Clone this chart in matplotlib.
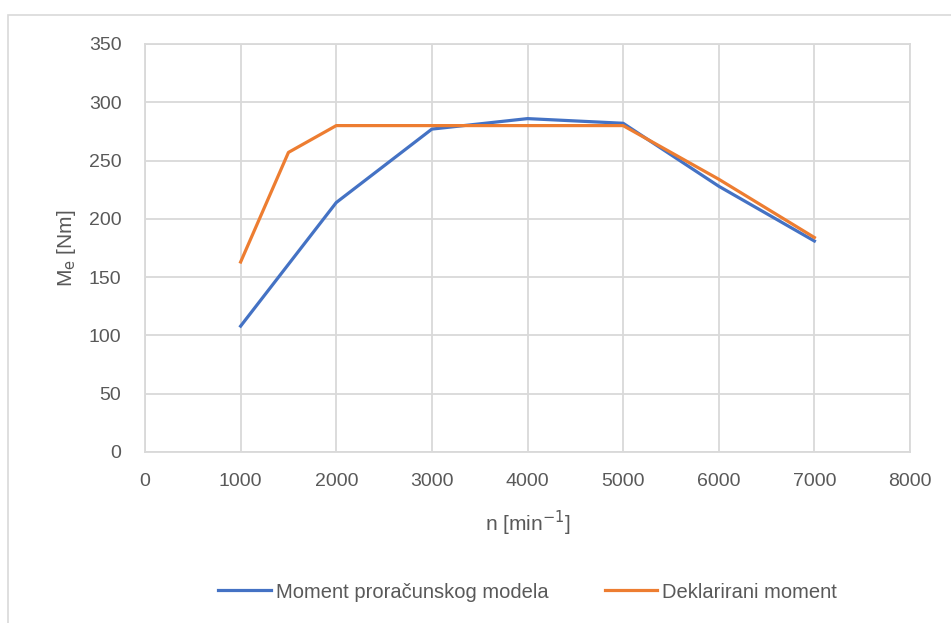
import matplotlib
matplotlib.use("Agg")
import matplotlib.pyplot as plt
from matplotlib.patches import Rectangle

rpm_model = [1000, 1500, 2000, 3000, 4000, 5000, 6000, 7000]
moment_model = [108, 161, 214, 277, 286, 282, 228, 181]
rpm_decl = [1000, 1500, 2000, 3000, 4000, 5000, 6000, 7000]
moment_decl = [163, 257, 280, 280, 280, 280, 234, 184]
xticks = [0, 1000, 2000, 3000, 4000, 5000, 6000, 7000, 8000]
yticks = [0, 50, 100, 150, 200, 250, 300, 350]

plt.rcParams['font.family'] = ['Liberation Sans', 'DejaVu Sans']
txt = '#595959'
grid = '#d9d9d9'

fig = plt.figure(figsize=(9.51, 6.23), dpi=100)
fig.patches.append(Rectangle((8/951, -0.1), 1.1, 1 - 15/623 + 0.1, transform=fig.transFigure,
                             fill=False, edgecolor='#d9d9d9', linewidth=1.2))
ax = fig.add_axes([145/951, 1 - 452/623, (910 - 145)/951, (452 - 44)/623])
ax.plot(rpm_model, moment_model, color='#4472C4', lw=2.3, label='Moment proračunskog modela', zorder=3)
ax.plot(rpm_decl, moment_decl, color='#ED7D31', lw=2.3, label='Deklarirani moment', zorder=3)
ax.set_xlim(0, 8000)
ax.set_ylim(0, 350)
ax.set_xticks(xticks)
ax.set_yticks(yticks)
ax.grid(True, color=grid, lw=1.3)
ax.set_axisbelow(True)
for s in ax.spines.values():
    s.set_color(grid)
    s.set_linewidth(1.3)
ax.tick_params(length=0, colors=txt, labelsize=14)
ax.tick_params(axis='y', pad=17)
ax.tick_params(axis='x', pad=15)
ax.set_xlabel('n [min$^{-1}$]', color=txt, fontsize=15, labelpad=14)
ax.set_ylabel('M$_\\mathrm{e}$ [Nm]', color=txt, fontsize=15, labelpad=8)
leg = ax.legend(loc='center', bbox_to_anchor=(0.5, (592 - 452) / -408.0), ncol=2, frameon=False,
                fontsize=14.5, handlelength=2.6, handletextpad=0.25, columnspacing=2.8)
for t in leg.get_texts():
    t.set_color(txt)
fig.savefig('out.png', dpi=100)
